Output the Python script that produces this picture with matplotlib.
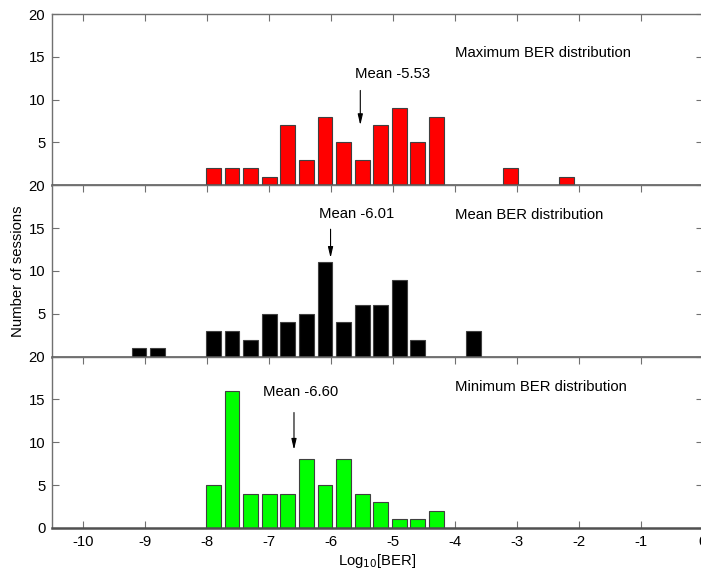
import numpy as np
import matplotlib
matplotlib.use('Agg')
import matplotlib.pyplot as plt

plt.rcParams['font.family'] = ['Liberation Sans', 'DejaVu Sans']
plt.rcParams['font.size'] = 10.7

# Bin centres (log10 BER) and counts
max_x = [-7.9, -7.6, -7.3, -7.0, -6.7, -6.4, -6.1, -5.8, -5.5, -5.2, -4.9, -4.6, -4.3, -3.1, -2.2]
max_n = [2, 2, 2, 1, 7, 3, 8, 5, 3, 7, 9, 5, 8, 2, 1]

mean_x = [-9.1, -8.8, -7.9, -7.6, -7.3, -7.0, -6.7, -6.4, -6.1, -5.8, -5.5, -5.2, -4.9, -4.6, -3.7]
mean_n = [1, 1, 3, 3, 2, 5, 4, 5, 11, 4, 6, 6, 9, 2, 3]

min_x = [-7.9, -7.6, -7.3, -7.0, -6.7, -6.4, -6.1, -5.8, -5.5, -5.2, -4.9, -4.6, -4.3]
min_n = [5, 16, 4, 4, 4, 8, 5, 8, 4, 3, 1, 1, 2]

y_ticks = [0, 5, 10, 15, 20]
bin_width = 0.3
bar_frac = 0.8

panels = [
    # x, counts, colour, title, title_y, mean, text_xy, arrow_top, arrow_tip
    (max_x, max_n, '#ff0000', 'Maximum BER distribution', 15.4, -5.53, (-5.61, 13.0), 11.4, 6.7),
    (mean_x, mean_n, '#000000', 'Mean BER distribution', 16.5, -6.01, (-6.20, 16.7), 15.2, 11.2),
    (min_x, min_n, '#00ff00', 'Minimum BER distribution', 16.5, -6.60, (-7.10, 15.9), 13.8, 8.8),
]

fig = plt.figure(figsize=(7.01, 5.72), dpi=100)

left = 52.3 / 701
width = (703 - 52.3) / 701
height = 0.2995
bottoms = [0.676, 0.3765, 0.077]

spine_col = '#707070'
axes = []
for i, (xs, ns, col, title, ty, mean, txy, a_top, a_tip) in enumerate(panels):
    ax = fig.add_axes([left, bottoms[i], width, height])
    ax.bar(xs, ns, width=bin_width * bar_frac, color=col, edgecolor='#404040', linewidth=0.8, zorder=2)
    ax.set_xlim(-10.5, 0)
    ax.set_ylim(0, 20)
    ax.set_yticks(y_ticks)
    last = (i == len(panels) - 1)
    # the "0" of the upper panels sits under the "20" of the panel below
    ax.set_yticklabels([('%d' % v) if (v != 0 or last) else '' for v in y_ticks])
    ax.set_xticks(np.arange(-10, 1, 1))
    ax.tick_params(direction='in', top=True, right=True, bottom=last,
                   labelbottom=last, length=5, width=0.8, color=spine_col,
                   labelsize=10.7, pad=5)
    for s in ax.spines.values():
        s.set_color(spine_col)
        s.set_linewidth(1.0)
    ax.spines['bottom'].set_linewidth(1.8)
    ax.spines['bottom'].set_color('#505050')
    ax.spines['bottom'].set_zorder(5)

    ax.text(-4.0, ty, title, fontsize=10.7, ha='left', va='center')
    ax.text(txy[0], txy[1], 'Mean %.2f' % mean, fontsize=10.7, ha='left', va='center')
    ax.annotate('', xy=(mean, a_tip), xytext=(mean, a_top),
                arrowprops=dict(arrowstyle='-|>,head_width=0.14,head_length=0.6',
                                color='k', lw=0.8))
    axes.append(ax)

axes[1].set_ylabel('Number of sessions', fontsize=10.7, labelpad=3)
axes[2].set_xlabel('Log$_{10}$[BER]', fontsize=10.7, labelpad=2)
axes[2].set_xticklabels(['%d' % v for v in range(-10, 1)])

fig.savefig('out.png', dpi=100)
